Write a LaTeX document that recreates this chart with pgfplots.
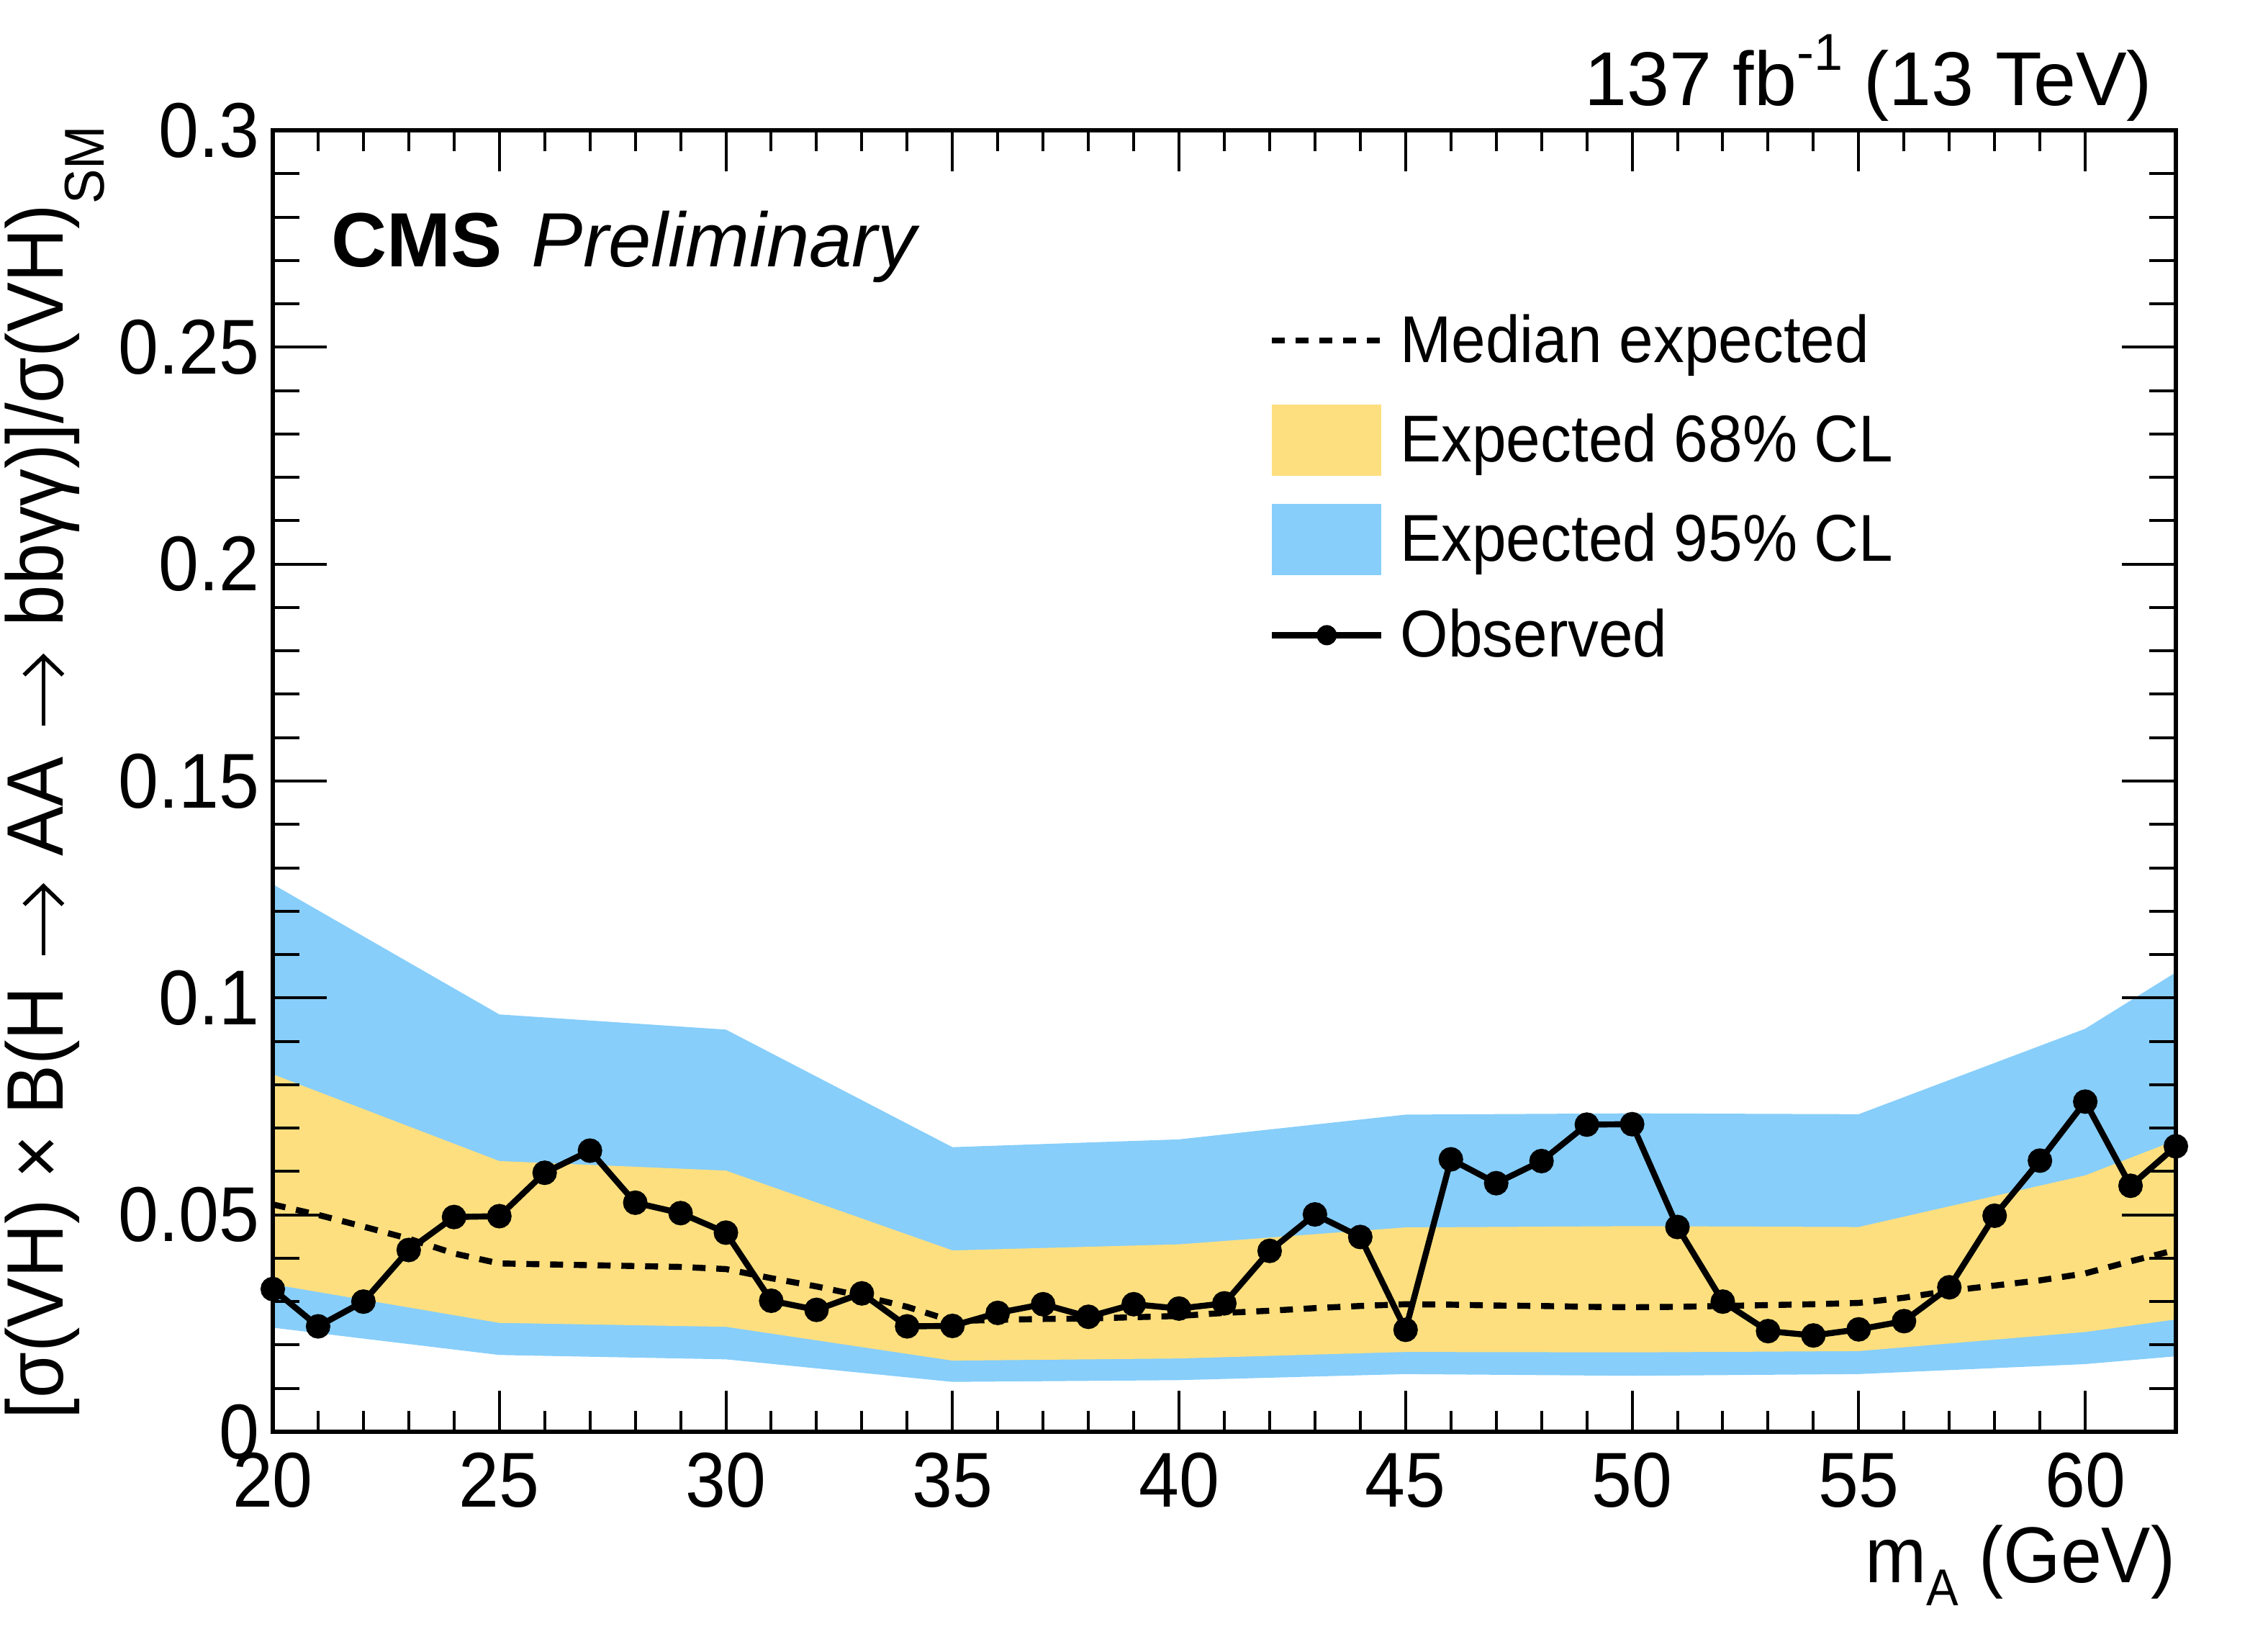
\documentclass[border=0pt]{standalone}
\usepackage{fontspec}
\setmainfont[FakeStretch=0.93]{Liberation Sans}
\newfontfamily\plainsans{Liberation Sans}
\usepackage{pgfplots}
\usetikzlibrary{arrows.meta}
\pgfplotsset{compat=1.18}
\definecolor{blueband}{RGB}{135,206,250}
\definecolor{yellowband}{RGB}{254,223,127}
\newcommand{\arr}{\hspace{3pt}\tikz[baseline=0pt]{\path[draw=none] (0pt,0pt) rectangle (25pt,1pt); \draw[black, line width=1.4pt, -{Straight Barb[length=6.5pt,width=13.5pt,line width=1.4pt]}] (0pt,6.9pt) -- (25pt,6.9pt);}\hspace{1.5pt}}
\begin{document}
\begin{tikzpicture}
\path[use as bounding box] (-94.75pt,-68.25pt) rectangle (693pt,497.25pt);
\begin{axis}[
  scale only axis, width=661pt, height=452pt,
  xmin=20, xmax=62, ymin=0, ymax=0.3,
  xtick={20,25,...,60}, minor x tick num=4,
  ytick={0,0.05,0.1,0.15,0.2,0.25,0.3},
  yticklabels={0,0.05,0.1,0.15,0.2,0.25,0.3},
  minor y tick num=4,
  scaled y ticks=false,
  tick align=inside,
  axis on top=true,
  clip=false,
  axis line style={line width=1.3pt},
  every tick/.style={black, line width=1pt},
  xtick style={/pgfplots/major tick length=14.3pt,/pgfplots/minor tick length=7.2pt},
  ytick style={/pgfplots/major tick length=18.75pt,/pgfplots/minor tick length=9.3pt},
  /pgf/number format/assume math mode=true,
  tick label style={font=\fontsize{27}{27}\selectfont, inner sep=0pt},
  xticklabel style={anchor=base, yshift=-26pt},
  yticklabel style={anchor=east, xshift=-4.5pt},
  xlabel={m\raisebox{-8pt}{\fontsize{18}{18}\selectfont A} (GeV)},
  xlabel style={at={([yshift=-52.25pt]rel axis cs:1,0)}, anchor=base east, inner sep=0pt, font=\fontsize{27.5}{27.5}\selectfont},
  ylabel={[σ(VH) × B(H \arr{} AA \arr{} bbγγ)]/σ(VH)\raisebox{-14.25pt}{\fontsize{19.5}{19.5}\selectfont SM}},
  ylabel style={at={([xshift=-72.75pt,yshift=1.75pt]rel axis cs:0,1)}, anchor=base east, inner sep=0pt, font=\fontsize{27.8}{27.8}\selectfont},
  legend style={at={(axis description cs:0.5235,0.8630)}, anchor=north west, draw=none, fill=none,
    inner sep=0pt, outer sep=0pt, row sep=8.5pt, column sep=5.5pt,
    nodes={inner sep=0pt}, font=\fontsize{23}{27}\selectfont},
  legend cell align=left,
]
% legend entries
\addlegendimage{legend image code/.code={\path[draw=none,fill=none] (0pt,-13.675pt) rectangle (38pt,11.075pt); \draw[black, line width=2.1pt, dash pattern=on 4.5pt off 3.75pt] (0pt,0pt) -- (38pt,0pt);}}
\addlegendentry{Median expected\vphantom{Ap}}
\addlegendimage{legend image code/.code={\path[draw=none,fill=none] (0pt,-13.675pt) rectangle (38pt,11.075pt); \fill[yellowband, draw=none] (0pt,-12.375pt) rectangle (38pt,12.375pt);}}
\addlegendentry{Expected 68\% CL\vphantom{Ap}}
\addlegendimage{legend image code/.code={\path[draw=none,fill=none] (0pt,-13.675pt) rectangle (38pt,11.075pt); \fill[blueband, draw=none] (0pt,-12.375pt) rectangle (38pt,12.375pt);}}
\addlegendentry{Expected 95\% CL\vphantom{Ap}}
\addlegendimage{legend image code/.code={\path[draw=none,fill=none] (0pt,-13.675pt) rectangle (38pt,11.075pt); \draw[black, line width=2.1pt] (0pt,0pt) -- (38pt,0pt); \fill[black, draw=none] (19pt,0pt) circle (3.5pt);}}
\addlegendentry{Observed\vphantom{Ap}}
% 95% band
\addplot[fill=blueband, draw=none, forget plot] coordinates {
 (20,0.1262) (25,0.0962) (30,0.0927) (35,0.0656) (40,0.0674) (45,0.0731) (50,0.0734) (55,0.0732) (60,0.0929) (62,0.1059)
 (62,0.0174) (60,0.0156) (55,0.0133) (50,0.0129) (45,0.0133) (40,0.0119) (35,0.0115) (30,0.0167) (25,0.0177) (20,0.0240)
} -- cycle;
% 68% band
\addplot[fill=yellowband, draw=none, forget plot] coordinates {
 (20,0.0824) (25,0.0624) (30,0.0602) (35,0.0418) (40,0.0432) (45,0.0471) (50,0.0474) (55,0.0472) (60,0.0591) (62,0.0672)
 (62,0.0259) (60,0.0230) (55,0.0186) (50,0.0183) (45,0.0184) (40,0.0169) (35,0.0164) (30,0.0242) (25,0.0251) (20,0.0340)
} -- cycle;
% median expected
\addplot[black, line width=2.1pt, dash pattern=on 4.5pt off 3.75pt, forget plot] coordinates {
 (20,0.0524) (21,0.0500) (22,0.0473) (23,0.0445) (24,0.0411) (25,0.0388) (26,0.0386) (27,0.0384) (28,0.0382) (29,0.0380)
 (30,0.0375) (31,0.0354) (32,0.0335) (33,0.0313) (34,0.0288) (35,0.0255) (36,0.0258) (37,0.0260) (38,0.0261) (39,0.0264)
 (40,0.0267) (41,0.0274) (42,0.0279) (43,0.0285) (44,0.0290) (45,0.0294) (46,0.0293) (47,0.0291) (48,0.0290) (49,0.0288)
 (50,0.0287) (51,0.0288) (52,0.0290) (53,0.0292) (54,0.0294) (55,0.0297) (56,0.0309) (57,0.0325) (58,0.0337) (59,0.0349)
 (60,0.0365) (61,0.0393) (62,0.0419)
};
% observed
\addplot[black, line width=2.1pt, mark=*, mark size=3.2pt, mark options={solid, fill=black}, forget plot] coordinates {
 (20,0.0329) (21,0.0243) (22,0.0300) (23,0.0419) (24,0.0495) (25,0.0497) (26,0.0597) (27,0.0648) (28,0.0528) (29,0.0504)
 (30,0.0459) (31,0.0302) (32,0.0281) (33,0.0319) (34,0.0243) (35,0.0244) (36,0.0274) (37,0.0294) (38,0.0265) (39,0.0294)
 (40,0.0284) (41,0.0296) (42,0.0417) (43,0.0501) (44,0.0449) (45,0.0235) (46,0.0628) (47,0.0573) (48,0.0624) (49,0.0708)
 (50,0.0709) (51,0.0472) (52,0.0300) (53,0.0232) (54,0.0222) (55,0.0236) (56,0.0255) (57,0.0333) (58,0.0498) (59,0.0625)
 (60,0.0761) (61,0.0567) (62,0.0658)
};
\node[anchor=base west, inner sep=0pt, font=\plainsans\fontsize{26.7}{26.7}\selectfont\bfseries] at ([xshift=20.25pt,yshift=-47.25pt]rel axis cs:0,1) {CMS};
\node[anchor=base west, inner sep=0pt, font=\plainsans\fontsize{26.7}{26.7}\selectfont\itshape] at ([xshift=89.75pt,yshift=-47.25pt]rel axis cs:0,1) {Preliminary};
\node[anchor=base east, inner sep=0pt, font=\plainsans\fontsize{26.5}{26.5}\selectfont] at ([xshift=-8pt,yshift=8.75pt]rel axis cs:1,1) {137 fb\raisebox{12.25pt}{\fontsize{18}{18}\selectfont -1} (13 TeV)};
\end{axis}
\end{tikzpicture}
\end{document}
